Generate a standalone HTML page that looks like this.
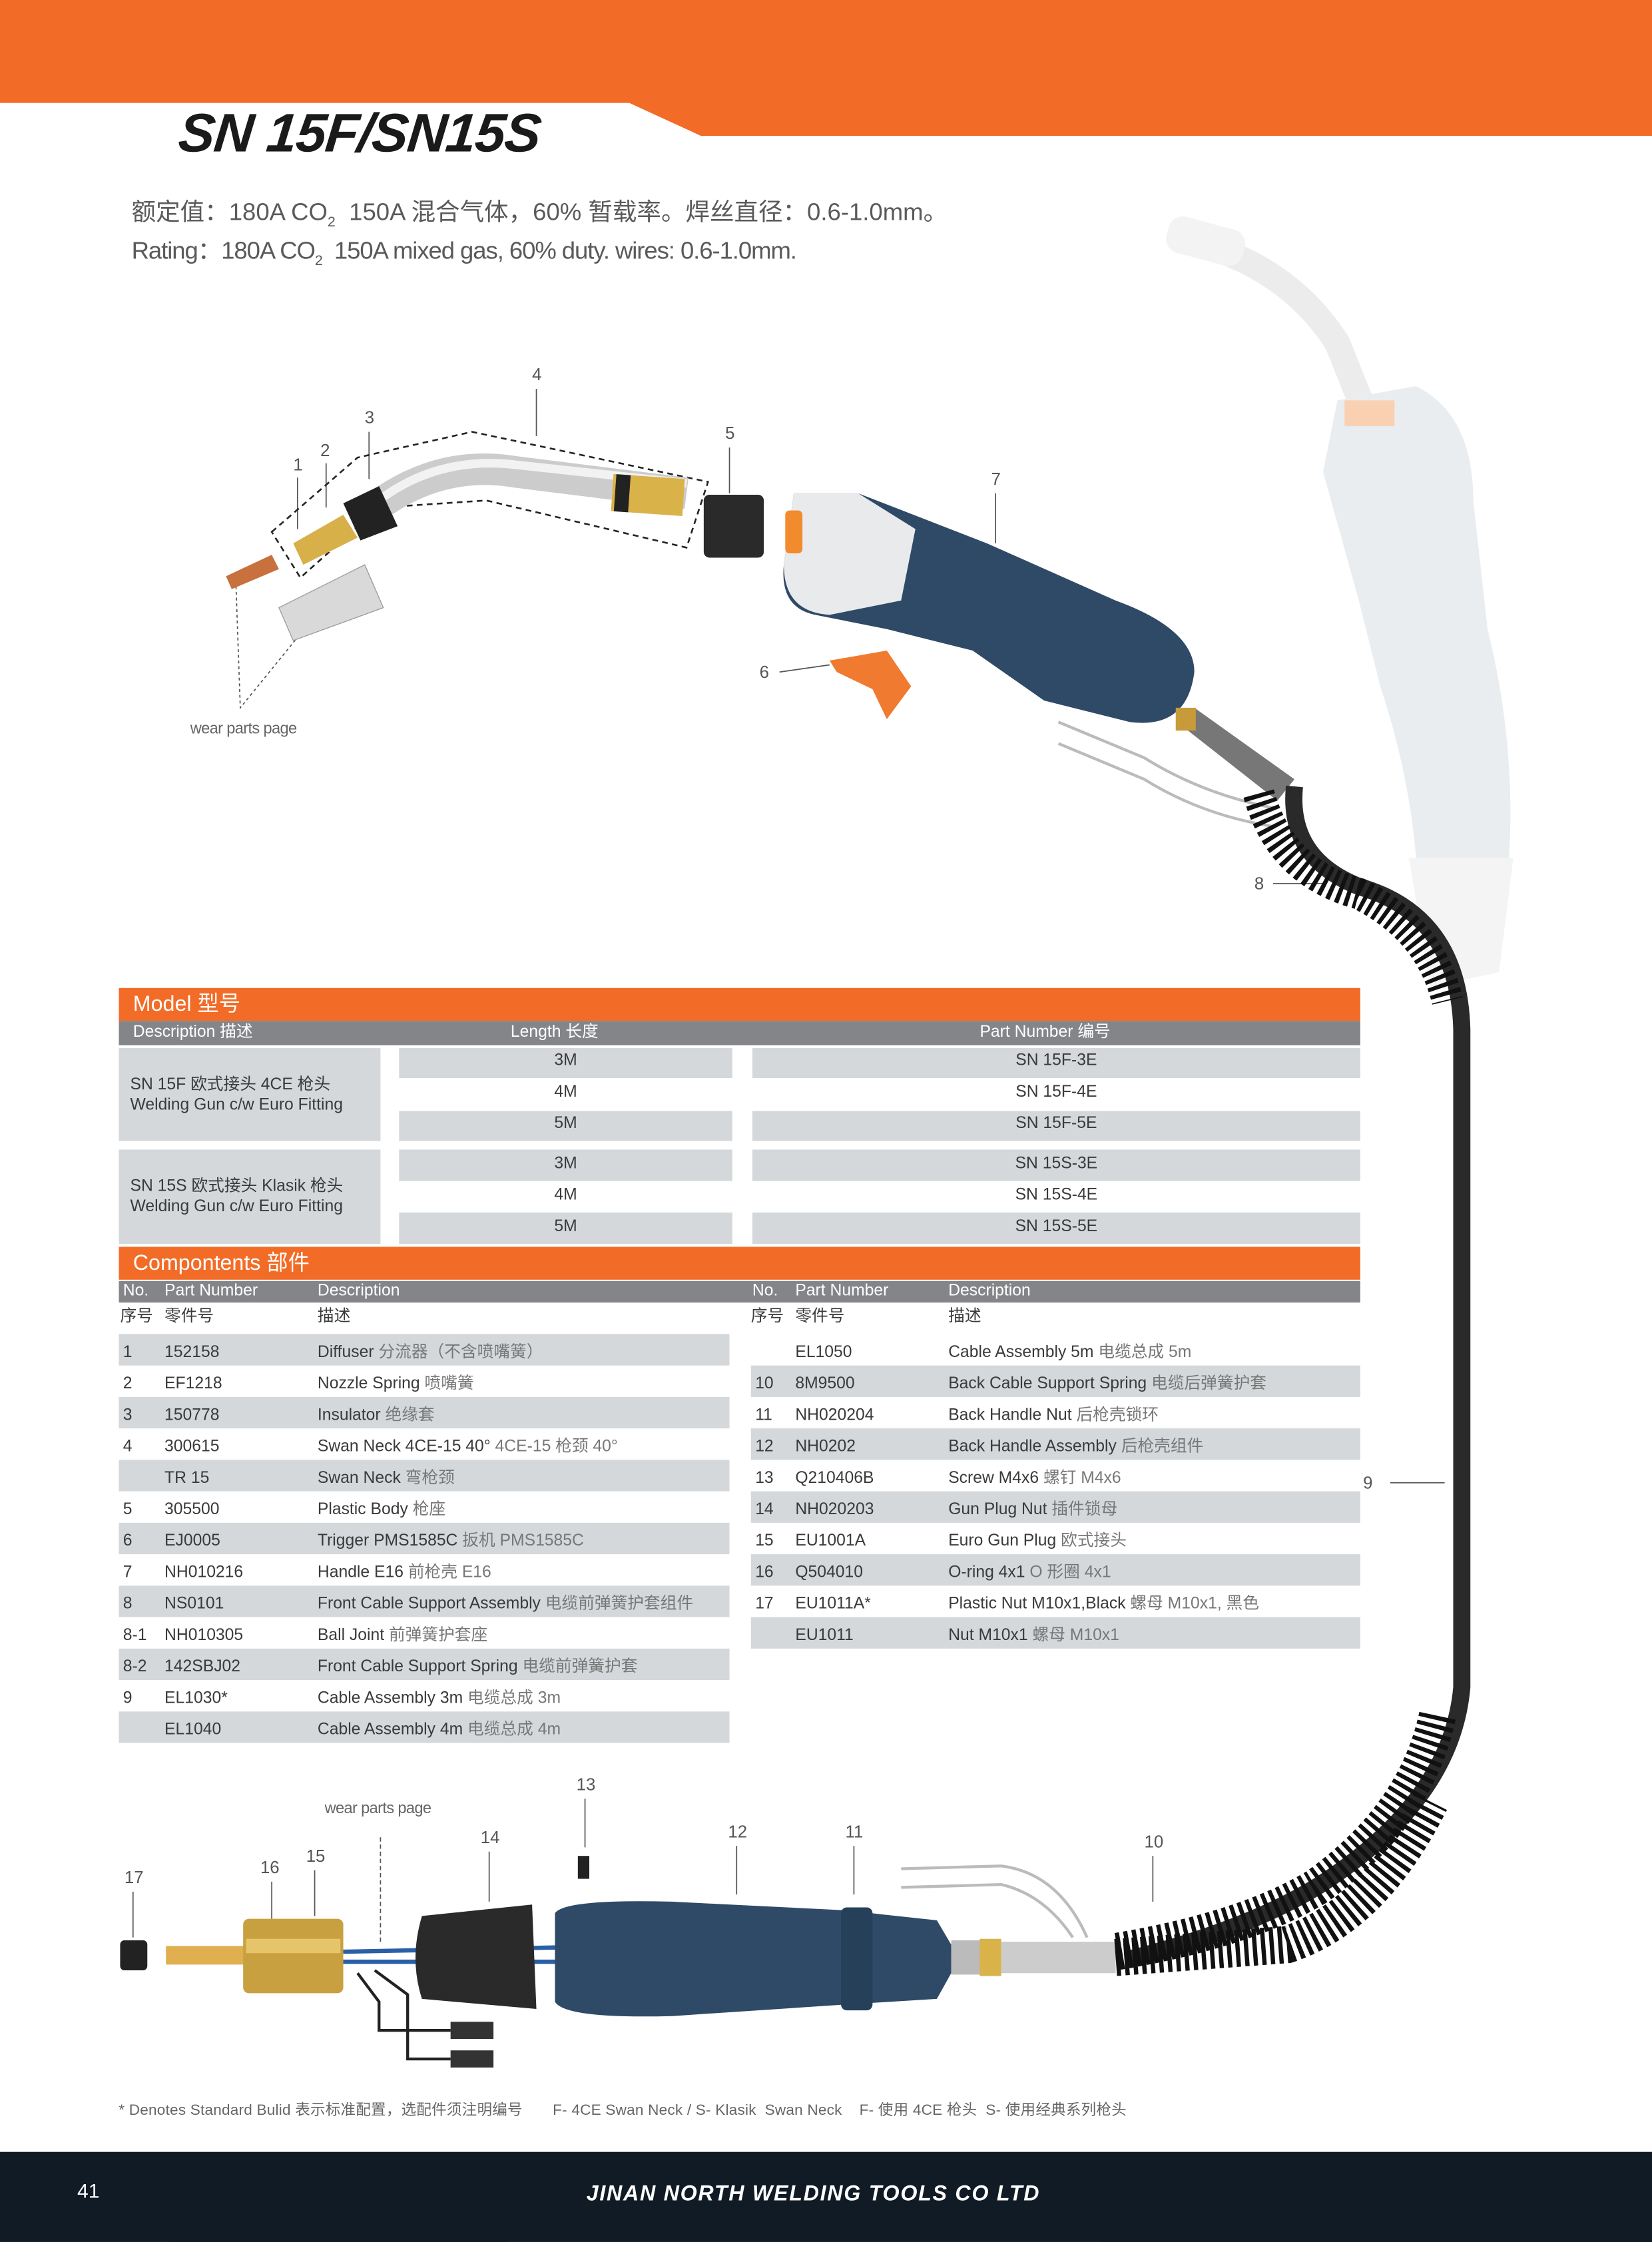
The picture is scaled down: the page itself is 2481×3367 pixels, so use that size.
<!DOCTYPE html>
<html><head><meta charset="utf-8">
<style>
*{margin:0;padding:0;box-sizing:border-box}
html,body{width:2481px;height:3367px;overflow:hidden;background:#fff}
#s{position:absolute;left:0;top:0;width:1155px;height:1568px;transform:scale(2.1481,2.1473);transform-origin:0 0;font-family:"Liberation Sans Narrow","Liberation Sans","Noto Sans CJK SC",sans-serif;color:#3a3a3a}
.a{position:absolute;white-space:nowrap}
.n{font-size:12px;color:#555}
.o{background:#f26c27;color:#fff;font-size:15px;padding-left:10px;line-height:23px}
.g{background:#848589;color:#fff;font-size:11.5px}
.r{background:#d4d8db}
.t{font-size:11.5px;color:#3a3a3a}
.cn{color:#777}
</style></head><body><div id="s">
<svg class="a" style="left:0;top:0" width="1155" height="100"><polygon points="0,0 1155,0 1155,95 490,95 440,72 0,72" fill="#f26c27"/></svg>
<div class="a" style="left:125px;top:73px;font:italic bold 38px 'Liberation Sans',sans-serif;color:#1a1a1a;letter-spacing:-0.6px;transform:skewX(-6deg)">SN 15F/SN15S</div>
<div class="a" style="left:92px;top:134px;font-size:17px;color:#5a5a5a;font-family:'Liberation Sans','Noto Sans CJK SC',sans-serif">额定值：180A CO<sub style="font-size:10px">2</sub>&nbsp; 150A 混合气体，60% 暂载率。焊丝直径：0.6-1.0mm。</div>
<div class="a" style="left:92px;top:161px;font-size:17px;color:#5a5a5a;letter-spacing:-0.5px;font-family:'Liberation Sans','Noto Sans CJK SC',sans-serif">Rating：180A CO<sub style="font-size:10px">2</sub>&nbsp; 150A mixed gas, 60% duty. wires: 0.6-1.0mm.</div>

<svg class="a" style="left:0;top:0" width="1155" height="1500">
 <g fill="none" stroke="#555" stroke-width="0.8">
  <line x1="375" y1="272" x2="375" y2="305"/><line x1="258" y1="302" x2="258" y2="335"/><line x1="228" y1="324" x2="228" y2="355"/><line x1="208" y1="334" x2="208" y2="370"/>
  <line x1="510" y1="313" x2="510" y2="345"/><line x1="696" y1="345" x2="696" y2="380"/><line x1="545" y1="470" x2="580" y2="465"/>
  <line x1="890" y1="618" x2="925" y2="618"/><line x1="972" y1="1037" x2="1010" y2="1037"/>
  <line x1="806" y1="1298" x2="806" y2="1330"/><line x1="597" y1="1291" x2="597" y2="1325"/><line x1="515" y1="1291" x2="515" y2="1325"/><line x1="409" y1="1258" x2="409" y2="1292"/>
  <line x1="342" y1="1295" x2="342" y2="1330"/><line x1="220" y1="1308" x2="220" y2="1340"/><line x1="190" y1="1316" x2="190" y2="1345"/><line x1="93" y1="1323" x2="93" y2="1355"/>
  <path d="M165 410 L168 495 L207 447" stroke-dasharray="2,2"/>
  <line x1="266" y1="1285" x2="266" y2="1360" stroke-dasharray="3,2"/>
  <polygon points="190,372 250,320 330,302 495,337 480,383 340,350 265,355 210,404" stroke="#222" stroke-width="1.2" stroke-dasharray="4,3"/>
 </g>
 <polygon points="158,403 190,388 195,398 162,412" fill="#c8703e"/>
 <polygon points="195,425 255,395 268,425 205,448" fill="#d9d9d9" stroke="#999" stroke-width=".6"/>
 <polygon points="205,380 240,360 250,376 212,395" fill="#d8b04a"/>
 <path d="M250 365 Q300 320 360 330 L480 345" stroke="#ccc" stroke-width="22" fill="none"/>
 <path d="M255 358 Q300 318 360 325 L480 338" stroke="#f2f2f2" stroke-width="6" fill="none"/>
 <polygon points="240,352 265,340 278,368 252,378" fill="#222"/>
 <rect x="428" y="333" width="50" height="26" fill="#d9b24a" transform="rotate(4 450 346)"/>
 <rect x="430" y="333" width="10" height="26" fill="#222" transform="rotate(4 450 346)"/>
 <rect x="492" y="346" width="42" height="44" rx="4" fill="#2a2a2a"/>
 <path d="M555 345 L600 345 L690 380 L780 420 Q835 440 835 470 Q830 510 790 505 L730 490 L680 455 L620 440 L570 430 Q545 425 548 395 Z" fill="#2e4a66"/>
 <path d="M555 345 L600 345 L640 370 L630 420 L580 430 Q548 428 548 395 Z" fill="#e8eaec"/>
 <rect x="549" y="357" width="12" height="30" rx="3" fill="#f28a2e"/>
 <polygon points="580,462 620,455 637,480 620,503 610,482 585,470" fill="#f07a30"/>
 <g stroke="#bbb" stroke-width="2" fill="none"><path d="M740 505 L800 530 Q840 555 890 565"/><path d="M740 520 L800 545 Q840 570 890 578"/></g>
 <polygon points="823,505 835,495 905,545 893,560" fill="#777"/><rect x="822" y="495" width="14" height="16" fill="#c89b3a"/>
 <g opacity="0.75">
 <path d="M830 168 Q900 185 935 240 L955 290" stroke="#e6e6e6" stroke-width="18" fill="none"/>
 <rect x="815" y="155" width="55" height="26" rx="10" fill="#efefef" transform="rotate(15 840 170)"/>
 <path d="M935 280 L990 270 Q1030 290 1030 350 L1040 440 Q1060 520 1055 600 L990 600 Q985 540 965 480 L950 420 L925 330 Z" fill="#e3e7ea"/>
 <rect x="940" y="280" width="35" height="18" fill="#f8c09a"/>
 <path d="M985 600 L1058 600 L1048 680 L1000 690 Z" fill="#f0f0f0"/>
 </g>
 <path d="M905 550 Q900 600 950 620 Q1020 640 1022 720 L1022 1180 Q1015 1260 920 1320 Q870 1350 790 1370" stroke="#2a2a2a" stroke-width="12" fill="none"/>
 <path d="M880 555 Q895 610 950 625 Q1000 650 1012 700" stroke="#111" stroke-width="22" fill="none" stroke-dasharray="3,3"/>
 <path d="M1005 1200 Q990 1270 920 1320 Q870 1350 780 1365" stroke="#111" stroke-width="26" fill="none" stroke-dasharray="3,3"/>
 <rect x="84" y="1357" width="19" height="21" rx="3" fill="#222"/>
 <rect x="116" y="1361" width="60" height="13" fill="#e0b050"/>
 <rect x="170" y="1342" width="70" height="52" rx="4" fill="#c9a040"/><rect x="172" y="1356" width="66" height="10" fill="#e6c46a"/>
 <g stroke="#2a5fa8" stroke-width="3" fill="none"><path d="M240 1365 L390 1362"/><path d="M240 1372 L390 1372"/></g>
 <g stroke="#222" stroke-width="2" fill="none"><path d="M250 1380 L265 1400 L265 1420 L315 1420"/><path d="M262 1378 L285 1395 L285 1440 L315 1440"/></g>
 <rect x="315" y="1414" width="30" height="12" fill="#333"/><rect x="315" y="1434" width="30" height="12" fill="#333"/>
 <path d="M295 1340 L372 1332 L375 1405 L295 1398 Q286 1370 295 1340 Z" fill="#2a2a2a"/>
 <path d="M388 1338 Q395 1328 470 1330 L590 1336 L655 1343 L665 1360 L665 1380 L655 1398 L590 1402 L470 1410 Q395 1412 388 1400 Z" fill="#2e4a66"/>
 <rect x="588" y="1334" width="22" height="72" rx="4" fill="#27405a"/>
 <rect x="404" y="1298" width="8" height="16" fill="#222"/>
 <rect x="665" y="1357" width="30" height="24" fill="#bbb"/><rect x="685" y="1356" width="15" height="26" fill="#d9b24a"/><rect x="700" y="1358" width="80" height="22" fill="#ccc"/>
 <g stroke="#bbb" stroke-width="2" fill="none"><path d="M630 1307 L700 1305 Q740 1310 760 1355"/><path d="M630 1320 L700 1318 Q730 1325 750 1355"/></g>
 <path d="M780 1369 L900 1360 Q960 1340 1000 1260" stroke="#111" stroke-width="26" fill="none" stroke-dasharray="3,3"/>
</svg>
<div class="a n" style="left:372px;top:255px">4</div><div class="a n" style="left:255px;top:285px">3</div><div class="a n" style="left:224px;top:308px">2</div><div class="a n" style="left:205px;top:318px">1</div>
<div class="a n" style="left:507px;top:296px">5</div><div class="a n" style="left:693px;top:328px">7</div><div class="a n" style="left:531px;top:463px">6</div>
<div class="a n" style="left:877px;top:611px">8</div><div class="a n" style="left:953px;top:1030px">9</div>
<div class="a n" style="left:800px;top:1281px">10</div><div class="a n" style="left:591px;top:1274px">11</div><div class="a n" style="left:509px;top:1274px">12</div><div class="a n" style="left:403px;top:1241px">13</div>
<div class="a n" style="left:336px;top:1278px">14</div><div class="a n" style="left:214px;top:1291px">15</div><div class="a n" style="left:182px;top:1299px">16</div><div class="a n" style="left:87px;top:1306px">17</div>
<div class="a" style="left:133px;top:504px;font-size:11px;color:#666;letter-spacing:-0.3px">wear parts page</div>
<div class="a" style="left:227px;top:1259px;font-size:11px;color:#666;letter-spacing:-0.3px">wear parts page</div>

<div class="a o" style="left:83px;top:691px;width:868px;height:23px">Model 型号</div>
<div class="a g" style="left:83px;top:714px;width:868px;height:17px;line-height:17px"><span class="a" style="left:10px">Description 描述</span><span class="a" style="left:274px">Length 长度</span><span class="a" style="left:602px">Part Number 编号</span></div>
<div class="a r" style="left:83px;top:733px;width:183px;height:65px"></div>
<div class="a r" style="left:83px;top:804px;width:183px;height:66px"></div>
<div class="a t" style="left:91px;top:752px;line-height:14px">SN 15F 欧式接头 4CE 枪头<br>Welding Gun c/w Euro Fitting</div>
<div class="a t" style="left:91px;top:823px;line-height:14px">SN 15S 欧式接头 Klasik 枪头<br>Welding Gun c/w Euro Fitting</div>
<div class="a r" style="left:279px;top:733px;width:233px;height:21px"></div><div class="a r" style="left:526px;top:733px;width:425px;height:21px"></div>
<div class="a r" style="left:279px;top:777px;width:233px;height:21px"></div><div class="a r" style="left:526px;top:777px;width:425px;height:21px"></div>
<div class="a r" style="left:279px;top:804px;width:233px;height:22px"></div><div class="a r" style="left:526px;top:804px;width:425px;height:22px"></div>
<div class="a r" style="left:279px;top:848px;width:233px;height:22px"></div><div class="a r" style="left:526px;top:848px;width:425px;height:22px"></div>
<div class="a t" style="left:279px;top:736px;width:233px;text-align:center">3M</div><div class="a t" style="left:526px;top:736px;width:425px;text-align:center">SN 15F-3E</div>
<div class="a t" style="left:279px;top:758px;width:233px;text-align:center">4M</div><div class="a t" style="left:526px;top:758px;width:425px;text-align:center">SN 15F-4E</div>
<div class="a t" style="left:279px;top:780px;width:233px;text-align:center">5M</div><div class="a t" style="left:526px;top:780px;width:425px;text-align:center">SN 15F-5E</div>
<div class="a t" style="left:279px;top:808px;width:233px;text-align:center">3M</div><div class="a t" style="left:526px;top:808px;width:425px;text-align:center">SN 15S-3E</div>
<div class="a t" style="left:279px;top:830px;width:233px;text-align:center">4M</div><div class="a t" style="left:526px;top:830px;width:425px;text-align:center">SN 15S-4E</div>
<div class="a t" style="left:279px;top:852px;width:233px;text-align:center">5M</div><div class="a t" style="left:526px;top:852px;width:425px;text-align:center">SN 15S-5E</div>

<div class="a o" style="left:83px;top:872px;width:868px;height:23px">Compontents 部件</div>
<div class="a g" style="left:83px;top:896px;width:868px;height:15px;line-height:15px"><span class="a" style="left:3px">No.</span><span class="a" style="left:32px">Part Number</span><span class="a" style="left:139px">Description</span><span class="a" style="left:443px">No.</span><span class="a" style="left:473px">Part Number</span><span class="a" style="left:580px">Description</span></div>
<div class="a t" style="left:84px;top:912px">序号</div><div class="a t" style="left:115px;top:912px">零件号</div><div class="a t" style="left:222px;top:912px">描述</div>
<div class="a t" style="left:525px;top:912px">序号</div><div class="a t" style="left:556px;top:912px">零件号</div><div class="a t" style="left:663px;top:912px">描述</div>

<div class="a r" style="left:83px;top:933px;width:427px;height:22px"></div>
<div class="a r" style="left:83px;top:977px;width:427px;height:22px"></div>
<div class="a r" style="left:83px;top:1021px;width:427px;height:22px"></div>
<div class="a r" style="left:83px;top:1065px;width:427px;height:22px"></div>
<div class="a r" style="left:83px;top:1109px;width:427px;height:22px"></div>
<div class="a r" style="left:83px;top:1153px;width:427px;height:22px"></div>
<div class="a r" style="left:83px;top:1197px;width:427px;height:22px"></div>
<div class="a r" style="left:525px;top:955px;width:426px;height:22px"></div>
<div class="a r" style="left:525px;top:999px;width:426px;height:22px"></div>
<div class="a r" style="left:525px;top:1043px;width:426px;height:22px"></div>
<div class="a r" style="left:525px;top:1087px;width:426px;height:22px"></div>
<div class="a r" style="left:525px;top:1131px;width:426px;height:22px"></div>

<div class="a t" style="left:86px;top:935px;line-height:22px">1<br>2<br>3<br>4<br>&nbsp;<br>5<br>6<br>7<br>8<br>8-1<br>8-2<br>9<br>&nbsp;</div>
<div class="a t" style="left:115px;top:935px;line-height:22px">152158<br>EF1218<br>150778<br>300615<br>TR 15<br>305500<br>EJ0005<br>NH010216<br>NS0101<br>NH010305<br>142SBJ02<br>EL1030*<br>EL1040</div>
<div class="a t" style="left:222px;top:935px;line-height:22px">Diffuser <span class="cn">分流器（不含喷嘴簧）</span><br>Nozzle Spring <span class="cn">喷嘴簧</span><br>Insulator <span class="cn">绝缘套</span><br>Swan Neck 4CE-15 40° <span class="cn">4CE-15 枪颈 40°</span><br>Swan Neck <span class="cn">弯枪颈</span><br>Plastic Body <span class="cn">枪座</span><br>Trigger PMS1585C <span class="cn">扳机 PMS1585C</span><br>Handle E16 <span class="cn">前枪壳 E16</span><br>Front Cable Support Assembly <span class="cn">电缆前弹簧护套组件</span><br>Ball Joint <span class="cn">前弹簧护套座</span><br>Front Cable Support Spring <span class="cn">电缆前弹簧护套</span><br>Cable Assembly 3m <span class="cn">电缆总成 3m</span><br>Cable Assembly 4m <span class="cn">电缆总成 4m</span></div>

<div class="a t" style="left:528px;top:935px;line-height:22px">&nbsp;<br>10<br>11<br>12<br>13<br>14<br>15<br>16<br>17<br>&nbsp;</div>
<div class="a t" style="left:556px;top:935px;line-height:22px">EL1050<br>8M9500<br>NH020204<br>NH0202<br>Q210406B<br>NH020203<br>EU1001A<br>Q504010<br>EU1011A*<br>EU1011</div>
<div class="a t" style="left:663px;top:935px;line-height:22px">Cable Assembly 5m <span class="cn">电缆总成 5m</span><br>Back Cable Support Spring <span class="cn">电缆后弹簧护套</span><br>Back Handle Nut <span class="cn">后枪壳锁环</span><br>Back Handle Assembly <span class="cn">后枪壳组件</span><br>Screw M4x6 <span class="cn">螺钉 M4x6</span><br>Gun Plug Nut <span class="cn">插件锁母</span><br>Euro Gun Plug <span class="cn">欧式接头</span><br>O-ring 4x1 <span class="cn">O 形圈 4x1</span><br>Plastic Nut M10x1,Black <span class="cn">螺母 M10x1, 黑色</span><br>Nut M10x1 <span class="cn">螺母 M10x1</span></div>

<div class="a" style="left:83px;top:1468px;font-size:10.5px;color:#666;letter-spacing:0.1px;font-family:'Liberation Sans','Noto Sans CJK SC',sans-serif">* Denotes Standard Bulid 表示标准配置，选配件须注明编号&nbsp;&nbsp;&nbsp;&nbsp;&nbsp;&nbsp; F- 4CE Swan Neck / S- Klasik&nbsp; Swan Neck&nbsp;&nbsp;&nbsp; F- 使用 4CE 枪头&nbsp; S- 使用经典系列枪头</div>

<div class="a" style="left:0;top:1505px;width:1155px;height:63px;background:#101b25"></div>
<div class="a" style="left:54px;top:1524px;font-size:14px;color:#fff;font-family:'Liberation Sans',sans-serif">41</div>
<div class="a" style="left:410px;top:1526px;font:italic bold 15px 'Liberation Sans',sans-serif;color:#fff;letter-spacing:0.8px">JINAN NORTH WELDING TOOLS CO LTD</div>
</div></body></html>
